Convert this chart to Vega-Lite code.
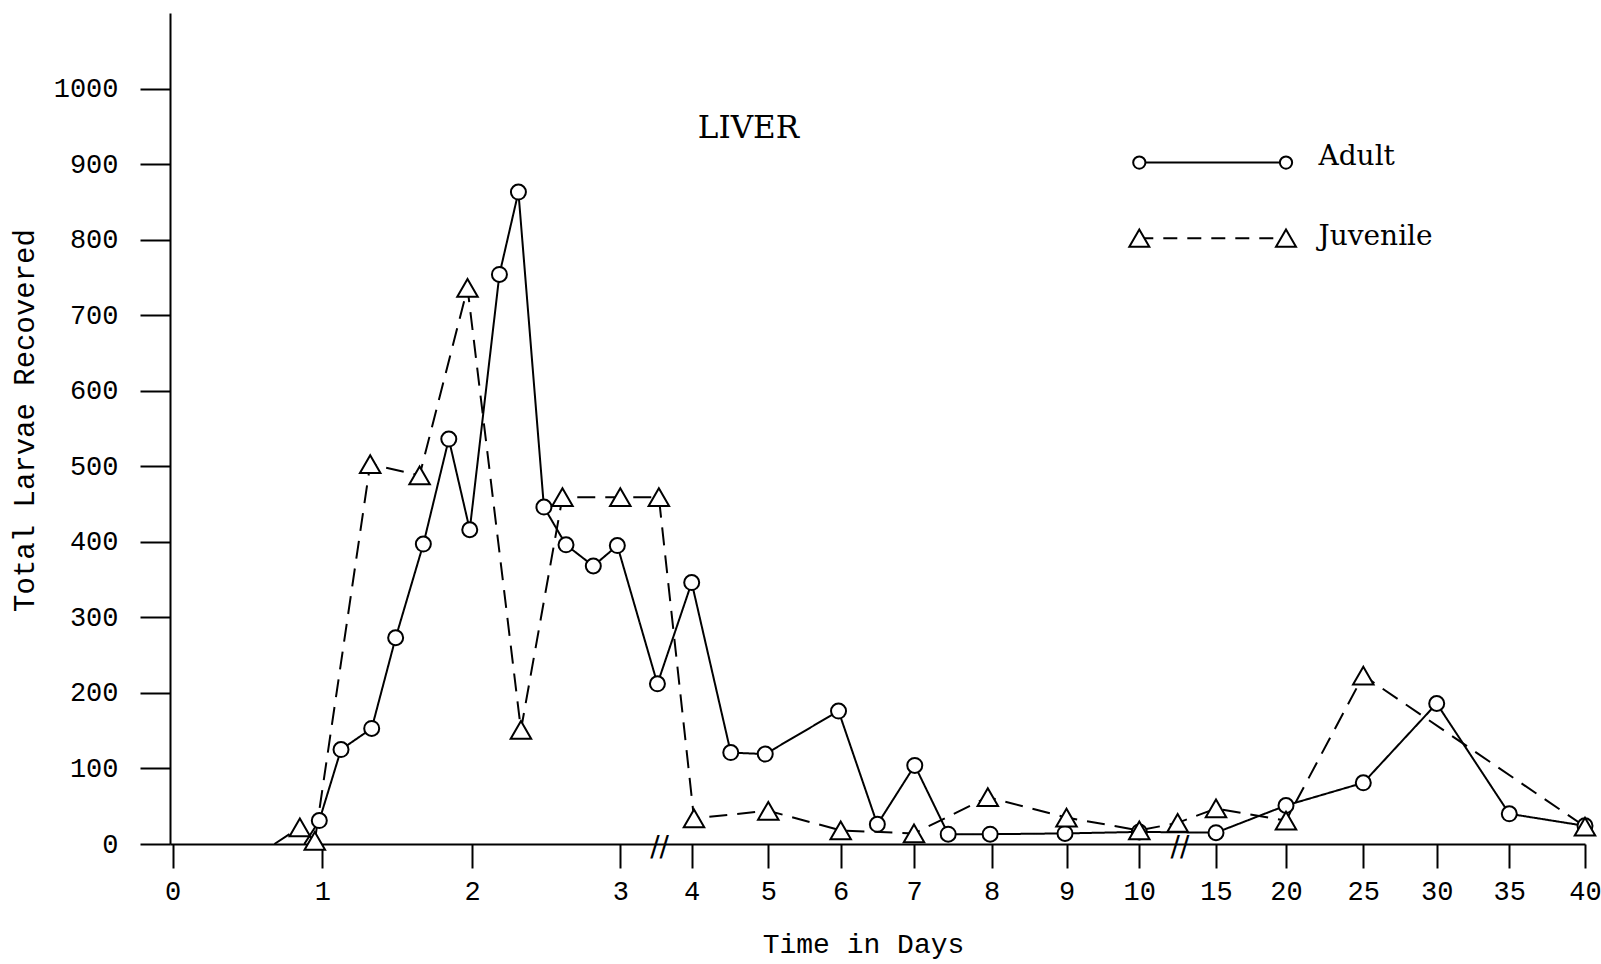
{
  "$schema": "https://vega.github.io/schema/vega-lite/v6.json",
  "width": 1418,
  "height": 831,
  "autosize": {"type": "none"},
  "padding": {"left": 170, "top": 13, "right": 13, "bottom": 120},
  "background": "white",
  "config": {
    "view": {"stroke": null},
    "axis": {
      "grid": false,
      "domainColor": "black",
      "domainWidth": 2,
      "tickColor": "black",
      "tickWidth": 2,
      "labelFont": "Liberation Mono",
      "labelFontSize": 27,
      "labelColor": "black",
      "titleFont": "Liberation Mono",
      "titleFontSize": 29,
      "titleFontWeight": "normal",
      "titleColor": "black",
      "labelOverlap": false,
      "labelFlush": false
    }
  },
  "datasets": {
    "larvae": [
      {"series": "Adult", "day": 0.88, "larvae": 0},
      {"series": "Adult", "day": 0.98, "larvae": 31},
      {"series": "Adult", "day": 1.125, "larvae": 125},
      {"series": "Adult", "day": 1.33, "larvae": 153},
      {"series": "Adult", "day": 1.49, "larvae": 273},
      {"series": "Adult", "day": 1.675, "larvae": 397},
      {"series": "Adult", "day": 1.845, "larvae": 536},
      {"series": "Adult", "day": 1.985, "larvae": 416},
      {"series": "Adult", "day": 2.185, "larvae": 754},
      {"series": "Adult", "day": 2.313, "larvae": 863},
      {"series": "Adult", "day": 2.485, "larvae": 446},
      {"series": "Adult", "day": 2.634, "larvae": 396},
      {"series": "Adult", "day": 2.818, "larvae": 368},
      {"series": "Adult", "day": 2.98, "larvae": 395},
      {"series": "Adult", "day": 3.52, "larvae": 212},
      {"series": "Adult", "day": 4.0, "larvae": 346},
      {"series": "Adult", "day": 4.51, "larvae": 121},
      {"series": "Adult", "day": 4.96, "larvae": 119},
      {"series": "Adult", "day": 5.97, "larvae": 176},
      {"series": "Adult", "day": 6.5, "larvae": 26},
      {"series": "Adult", "day": 7.01, "larvae": 104},
      {"series": "Adult", "day": 7.44, "larvae": 13},
      {"series": "Adult", "day": 7.98, "larvae": 13},
      {"series": "Adult", "day": 8.98, "larvae": 14},
      {"series": "Adult", "day": 10, "larvae": 16},
      {"series": "Adult", "day": 15, "larvae": 15},
      {"series": "Adult", "day": 20, "larvae": 51},
      {"series": "Adult", "day": 25, "larvae": 81},
      {"series": "Adult", "day": 30, "larvae": 186},
      {"series": "Adult", "day": 35, "larvae": 40},
      {"series": "Adult", "day": 40, "larvae": 24},
      {"series": "Juvenile", "day": 0.68, "larvae": 0},
      {"series": "Juvenile", "day": 0.85, "larvae": 22},
      {"series": "Juvenile", "day": 0.95, "larvae": 4},
      {"series": "Juvenile", "day": 1.32, "larvae": 503},
      {"series": "Juvenile", "day": 1.65, "larvae": 488},
      {"series": "Juvenile", "day": 1.97, "larvae": 736},
      {"series": "Juvenile", "day": 2.33, "larvae": 151},
      {"series": "Juvenile", "day": 2.61, "larvae": 459},
      {"series": "Juvenile", "day": 3.0, "larvae": 459},
      {"series": "Juvenile", "day": 3.54, "larvae": 459},
      {"series": "Juvenile", "day": 4.03, "larvae": 34},
      {"series": "Juvenile", "day": 5.0, "larvae": 44},
      {"series": "Juvenile", "day": 6.0, "larvae": 18},
      {"series": "Juvenile", "day": 7.0, "larvae": 14},
      {"series": "Juvenile", "day": 7.95, "larvae": 62},
      {"series": "Juvenile", "day": 9.0, "larvae": 35},
      {"series": "Juvenile", "day": 10, "larvae": 18},
      {"series": "Juvenile", "day": 12.5, "larvae": 28},
      {"series": "Juvenile", "day": 15, "larvae": 47},
      {"series": "Juvenile", "day": 20, "larvae": 31},
      {"series": "Juvenile", "day": 25, "larvae": 223},
      {"series": "Juvenile", "day": 40, "larvae": 23}
    ]
  },
  "data": {"name": "larvae"},
  "layer": [
    {
      "mark": {"type": "line", "color": "black", "strokeWidth": 2},
      "encoding": {
        "x": {
          "field": "day",
          "type": "quantitative",
          "scale": {
            "domain": [-0.018, 0, 1, 2, 3, 4, 5, 6, 7, 8, 9, 10, 15, 20, 25, 30, 35, 40],
            "range": [0, 2.7, 152.3, 302, 450.3, 521.7, 598.3, 670.7, 744, 821.7, 896.5, 969.3, 1046, 1116, 1193.3, 1266.7, 1339.3, 1415],
            "nice": false,
            "zero": false
          },
          "axis": {
            "values": [0, 1, 2, 3, 4, 5, 6, 7, 8, 9, 10, 15, 20, 25, 30, 35, 40],
            "format": "d",
            "title": "Time in Days",
            "titleFontSize": 28,
            "tickSize": 24,
            "labelPadding": 10,
            "titleX": 693,
            "titleY": 108,
            "titleAlign": "center",
            "titleBaseline": "alphabetic"
          }
        },
        "y": {
          "field": "larvae",
          "type": "quantitative",
          "scale": {"domain": [0, 1100], "nice": false},
          "axis": {
            "values": [0, 100, 200, 300, 400, 500, 600, 700, 800, 900, 1000],
            "format": "d",
            "title": "Total Larvae Recovered",
            "tickSize": 30,
            "labelPadding": 22,
            "titleAngle": -90,
            "titleX": -146,
            "titleY": 407,
            "titleAlign": "center",
            "titleBaseline": "middle"
          }
        },
        "detail": {"field": "series", "type": "nominal"},
        "strokeDash": {
          "field": "series",
          "type": "nominal",
          "scale": {"domain": ["Adult", "Juvenile"], "range": [[1, 0], [18, 10]]},
          "legend": null
        }
      }
    },
    {
      "transform": [{"filter": "datum.series === 'Adult' && datum.larvae > 0"}],
      "mark": {"type": "point", "shape": "circle", "size": 225, "filled": true, "fill": "white", "stroke": "black", "strokeWidth": 2, "opacity": 1},
      "encoding": {
        "x": {"field": "day", "type": "quantitative"},
        "y": {"field": "larvae", "type": "quantitative"}
      }
    },
    {
      "transform": [{"filter": "datum.series === 'Juvenile' && datum.larvae > 0"}],
      "mark": {"type": "point", "shape": "triangle-up", "size": 420, "filled": true, "fill": "white", "stroke": "black", "strokeWidth": 2, "opacity": 1},
      "encoding": {
        "x": {"field": "day", "type": "quantitative"},
        "y": {"field": "larvae", "type": "quantitative"}
      }
    },
    {
      "data": {"values": [{}]},
      "mark": {"type": "text", "text": "LIVER", "font": "DejaVu Serif", "fontSize": 31, "align": "left", "baseline": "middle", "color": "black"},
      "encoding": {"x": {"datum": 4.08}, "y": {"datum": 947}}
    },
    {
      "data": {"values": [{}]},
      "mark": {"type": "rule", "color": "black", "strokeWidth": 2},
      "encoding": {"x": {"datum": 10}, "x2": {"datum": 20}, "y": {"datum": 902}}
    },
    {
      "data": {"values": [{}]},
      "mark": {"type": "point", "shape": "circle", "size": 150, "filled": true, "fill": "white", "stroke": "black", "strokeWidth": 2, "opacity": 1},
      "encoding": {"x": {"datum": 10}, "y": {"datum": 902}}
    },
    {
      "data": {"values": [{}]},
      "mark": {"type": "point", "shape": "circle", "size": 150, "filled": true, "fill": "white", "stroke": "black", "strokeWidth": 2, "opacity": 1},
      "encoding": {"x": {"datum": 20}, "y": {"datum": 902}}
    },
    {
      "data": {"values": [{}]},
      "mark": {"type": "text", "text": "Adult", "font": "DejaVu Serif", "fontSize": 28, "align": "left", "baseline": "middle", "color": "black"},
      "encoding": {"x": {"datum": 22.1}, "y": {"datum": 910}}
    },
    {
      "data": {"values": [{}]},
      "mark": {"type": "rule", "color": "black", "strokeWidth": 2, "strokeDash": [14, 10]},
      "encoding": {"x": {"datum": 10}, "x2": {"datum": 20}, "y": {"datum": 802}}
    },
    {
      "data": {"values": [{}]},
      "mark": {"type": "point", "shape": "triangle-up", "size": 400, "filled": true, "fill": "white", "stroke": "black", "strokeWidth": 2, "opacity": 1},
      "encoding": {"x": {"datum": 10}, "y": {"datum": 802}}
    },
    {
      "data": {"values": [{}]},
      "mark": {"type": "point", "shape": "triangle-up", "size": 400, "filled": true, "fill": "white", "stroke": "black", "strokeWidth": 2, "opacity": 1},
      "encoding": {"x": {"datum": 20}, "y": {"datum": 802}}
    },
    {
      "data": {"values": [{}]},
      "mark": {"type": "text", "text": "Juvenile", "font": "DejaVu Serif", "fontSize": 28, "align": "left", "baseline": "middle", "color": "black"},
      "encoding": {"x": {"datum": 22.1}, "y": {"datum": 804}}
    },
    {
      "data": {"values": [{}]},
      "mark": {"type": "text", "text": "//", "font": "DejaVu Sans", "fontSize": 28, "align": "center", "baseline": "middle", "color": "black"},
      "encoding": {"x": {"datum": 3.55}, "y": {"datum": -5}}
    },
    {
      "data": {"values": [{}]},
      "mark": {"type": "text", "text": "//", "font": "DejaVu Sans", "fontSize": 28, "align": "center", "baseline": "middle", "color": "black"},
      "encoding": {"x": {"datum": 12.65}, "y": {"datum": -5}}
    }
  ]
}
